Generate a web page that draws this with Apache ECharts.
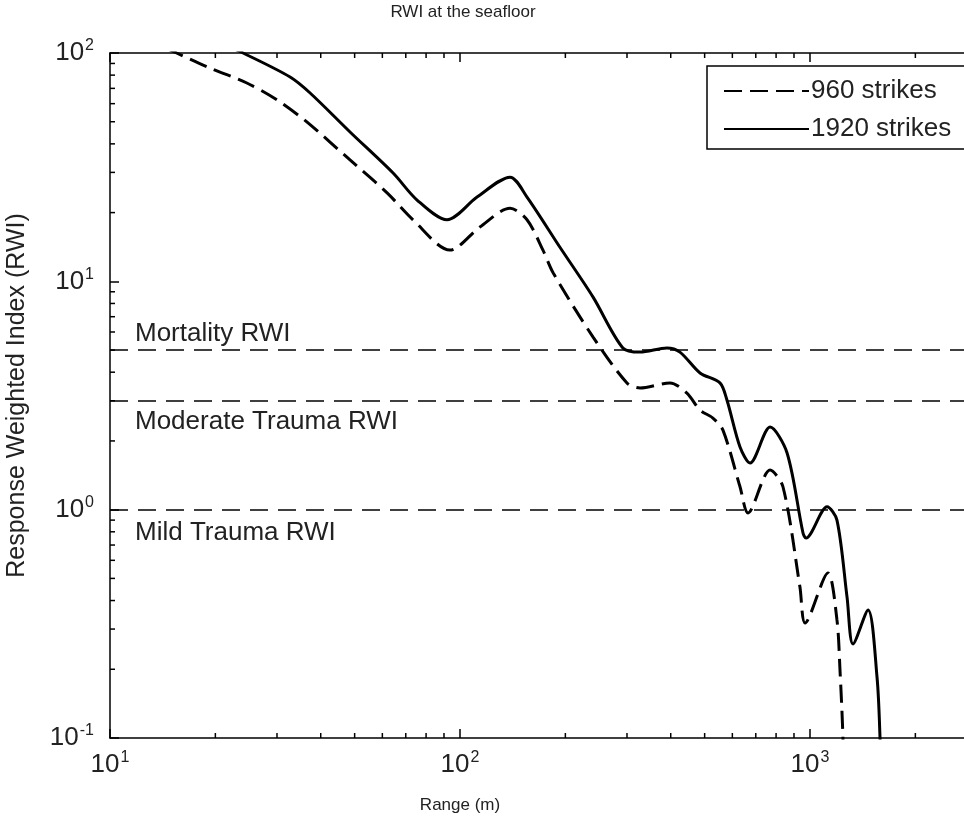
<!DOCTYPE html>
<html><head><meta charset="utf-8">
<script src="https://cdn.jsdelivr.net/npm/echarts@6/dist/echarts.min.js"></script>
<style>html,body{margin:0;padding:0;background:#fff}#c{width:964px;height:822px}</style>
</head><body><div id="c"></div>
<script>
// ---- data ----
const range960  = [14.5, 15.5, 19.3, 24.6, 30.0, 36.5, 48.5, 61.9, 73.4, 93.6, 114, 139, 155.4, 172.6, 184.5, 240, 300, 327, 398, 445, 485, 528, 564, 631, 665, 769, 837, 936, 968, 1125, 1194, 1218, 1242, 1250];
const rwi960    = [105, 100, 86, 73.9, 62.3, 49.9, 34.0, 24.4, 18.6, 13.7, 17.3, 20.9, 18.6, 13.7, 10.9, 5.70, 3.59, 3.41, 3.59, 3.24, 2.73, 2.52, 2.23, 1.26, 0.967, 1.49, 1.26, 0.458, 0.319, 0.528, 0.329, 0.199, 0.1, 0.05];
const range1920 = [21, 24, 32.7, 37.3, 48.5, 64.4, 75.4, 91.8, 111.9, 139, 155.4, 193, 240, 292, 327, 390, 425, 485, 553, 579, 631, 674, 769, 860, 955, 974, 1119, 1194, 1276, 1327, 1465, 1554, 1585, 1600];
const rwi1920   = [110, 100, 78.5, 66.8, 45.1, 29.8, 22.7, 18.6, 23.4, 28.6, 23.4, 14.1, 8.53, 5.11, 4.90, 5.11, 4.90, 3.97, 3.59, 3.02, 1.88, 1.60, 2.30, 1.77, 0.79, 0.751, 1.03, 0.90, 0.414, 0.258, 0.364, 0.185, 0.1, 0.05];
const seriesNames = ['960 strikes', '1920 strikes'];
const thresholdNames  = ['Mortality RWI', 'Moderate Trauma RWI', 'Mild Trauma RWI'];
const thresholdValues = [5, 3, 1];
const xRange = [10, 10000];
const yRange = [0.1, 100];
const xMinorTicks = [20,30,40,50,60,70,80,90,200,300,400,500,600,700,800,900,2000,3000,4000,5000,6000,7000,8000,9000];
const yMinorTicks = [0.2,0.3,0.4,0.5,0.6,0.7,0.8,0.9,2,3,4,5,6,7,8,9,20,30,40,50,60,70,80,90];

const FONT = 'Liberation Sans, Arial, sans-serif';
const supLabel = v => { const e = Math.round(Math.log10(v)); return '{b|10}{s|' + e + '}'; };
const rich = { b: { fontSize: 26, fontFamily: FONT, color: '#222', lineHeight: 30 },
               s: { fontSize: 16, fontFamily: FONT, color: '#222', verticalAlign: 'top', lineHeight: 14, padding: [0,0,0,1] } };

const chart = echarts.init(document.getElementById('c'), null, { renderer: 'canvas' });
const minorStyle = { stroke: '#000', lineWidth: 1.5 };
chart.setOption({
  animation: false,
  backgroundColor: '#fff',
  color: ['#000', '#000'],
  grid: { left: 110, top: 53, width: 1050, height: 685, containLabel: false, outerBoundsMode: 'none' },
  xAxis: [
    { type: 'log', logBase: 10, min: xRange[0], max: xRange[1], position: 'bottom',
      axisLine: { lineStyle: { color: '#000', width: 1.5 } },
      axisTick: { inside: true, length: 9, lineStyle: { color: '#000', width: 1.5 } },
      axisLabel: { margin: 12, formatter: supLabel, rich: rich },
      splitLine: { show: false } },
    { type: 'log', logBase: 10, min: xRange[0], max: xRange[1], position: 'top',
      axisLine: { lineStyle: { color: '#000', width: 1.5 } },
      axisTick: { inside: true, length: 9, lineStyle: { color: '#000', width: 1.5 } },
      axisLabel: { show: false }, splitLine: { show: false } }
  ],
  yAxis: [
    { type: 'log', logBase: 10, min: yRange[0], max: yRange[1],
      axisLine: { lineStyle: { color: '#000', width: 1.5 } },
      axisTick: { inside: true, length: 9, lineStyle: { color: '#000', width: 1.5 } },
      axisLabel: { margin: 16, formatter: supLabel, rich: rich },
      splitLine: { show: false },
      name: 'Response Weighted Index (RWI)', nameLocation: 'middle', nameGap: 80, nameRotate: 90,
      nameTextStyle: { fontFamily: FONT, fontSize: 25, color: '#222' } }
  ],
  legend: {
    orient: 'vertical', left: 723, top: 66,
    padding: [12, 10, 8, 0], itemGap: 12,
    itemWidth: 85, itemHeight: 26,
    borderWidth: 0, backgroundColor: 'transparent',
    itemStyle: { opacity: 0 },
    data: seriesNames,
    textStyle: { fontFamily: FONT, fontSize: 26, color: '#222', padding: [0,0,0,-3] }
  },
  series: [
    { name: seriesNames[0], type: 'line', data: range960.map((x, i) => [x, rwi960[i]]),
      symbol: 'none', showSymbol: false, smooth: 0.3, clip: true, z: 3,
      itemStyle: { color: '#000' },
      lineStyle: { color: '#000', width: 3, type: [18, 8] },
      markLine: { silent: true, symbol: 'none', label: { show: false },
        lineStyle: { color: '#000', width: 1.5, type: [18, 10] },
        data: thresholdValues.map(v => ({ yAxis: v })) } },
    { name: seriesNames[1], type: 'line', data: range1920.map((x, i) => [x, rwi1920[i]]),
      symbol: 'none', showSymbol: false, smooth: 0.3, clip: true, z: 3,
      itemStyle: { color: '#000' },
      lineStyle: { color: '#000', width: 3, type: 'solid' } },
    { name: 'xminor', type: 'custom', silent: true, clip: false,
      data: xMinorTicks.map(v => [v, 1]),
      renderItem: (params, api) => {
        const p = api.coord([api.value(0), api.value(1)]);
        const cs = params.coordSys;
        return { type: 'group', children: [
          { type: 'line', shape: { x1: p[0], y1: cs.y + cs.height, x2: p[0], y2: cs.y + cs.height - 5 }, style: minorStyle },
          { type: 'line', shape: { x1: p[0], y1: cs.y, x2: p[0], y2: cs.y + 5 }, style: minorStyle } ] };
      } },
    { name: 'yminor', type: 'custom', silent: true, clip: false,
      data: yMinorTicks.map(v => [10, v]),
      renderItem: (params, api) => {
        const p = api.coord([api.value(0), api.value(1)]);
        const cs = params.coordSys;
        return { type: 'line', shape: { x1: cs.x, y1: p[1], x2: cs.x + 5, y2: p[1] }, style: minorStyle };
      } }
  ],
  graphic: [
    { type: 'rect', z: 3, shape: { x: 707, y: 66, width: 400, height: 83 }, style: { fill: '#fff', stroke: '#000', lineWidth: 1.5 } },
    { type: 'text', x: 463, y: 12, style: { text: 'RWI at the seafloor', font: '17px ' + FONT, fill: '#222', align: 'center', verticalAlign: 'middle' } },
    { type: 'text', x: 460, y: 805, style: { text: 'Range (m)', font: '17px ' + FONT, fill: '#222', align: 'center', verticalAlign: 'middle' } },
    { type: 'text', x: 135, y: 334, style: { text: thresholdNames[0], font: '26px ' + FONT, fill: '#222', align: 'left', verticalAlign: 'middle' } },
    { type: 'text', x: 135, y: 422, style: { text: thresholdNames[1], font: '26px ' + FONT, fill: '#222', align: 'left', verticalAlign: 'middle' } },
    { type: 'text', x: 135, y: 533, style: { text: thresholdNames[2], font: '26px ' + FONT, fill: '#222', align: 'left', verticalAlign: 'middle' } }
  ]
});
</script></body></html>
